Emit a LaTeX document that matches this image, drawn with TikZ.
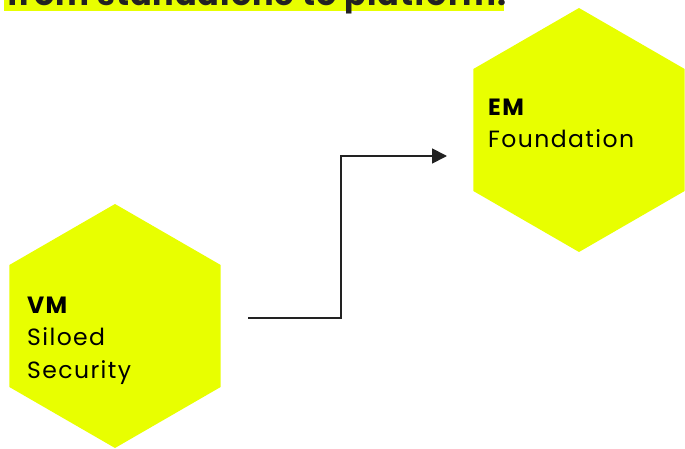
\documentclass[tikz,border=0pt]{standalone}
\usepackage{fontspec}
\setmainfont{Poppins}
\newfontfamily\lblfont[LetterSpace=6]{Poppins}
\newfontfamily\ttlfont[LetterSpace=3]{Poppins}
\usetikzlibrary{shapes.geometric,arrows.meta}
\definecolor{hexyel}{RGB}{232,255,0}
\definecolor{ink}{RGB}{34,34,34}
\begin{document}
\begin{tikzpicture}[x=1pt,y=-1pt,
  hexa/.style={regular polygon, regular polygon sides=6, shape border rotate=30,
    minimum size=244pt, inner sep=0pt, fill=hexyel, draw=none},
  lbl/.style={anchor=base west, inner sep=0pt, align=left, text=black,
    font=\lblfont\fontsize{23.5}{32.5}\selectfont},
  conn/.style={draw=ink, line width=1.8pt, -{Triangle[length=15pt,width=15pt]}},
  ttl/.style={anchor=base west, inner sep=0pt, text=ink, font=\ttlfont\fontsize{32}{38}\selectfont\bfseries}
]
\useasboundingbox (0,0) rectangle (685,449);
\clip (0,0) rectangle (685,449);
% title band
\fill[hexyel] (4,-20) rectangle (504,11);
\node[ttl] (title) at (7,5.5) {from standalone to platform.};
% hexagons
\node[hexa] (vm) at (115,326) {};
\node[hexa] (em) at (579,130) {};
% labels (anchored at the baseline of the last line)
\node[lbl] (vmlbl) at (27,378) {\textbf{VM}\\Siloed\\Security};
\node[lbl] (emlbl) at (488,148) {\textbf{EM}\\Foundation};
% connector
\coordinate (start) at (248,318);
\coordinate (bend1) at (341,318);
\coordinate (bend2) at (341,156);
\coordinate (stop) at (447,156);
\draw[conn] (start) -- (bend1) -- (bend2) -- (stop);
\end{tikzpicture}
\end{document}
